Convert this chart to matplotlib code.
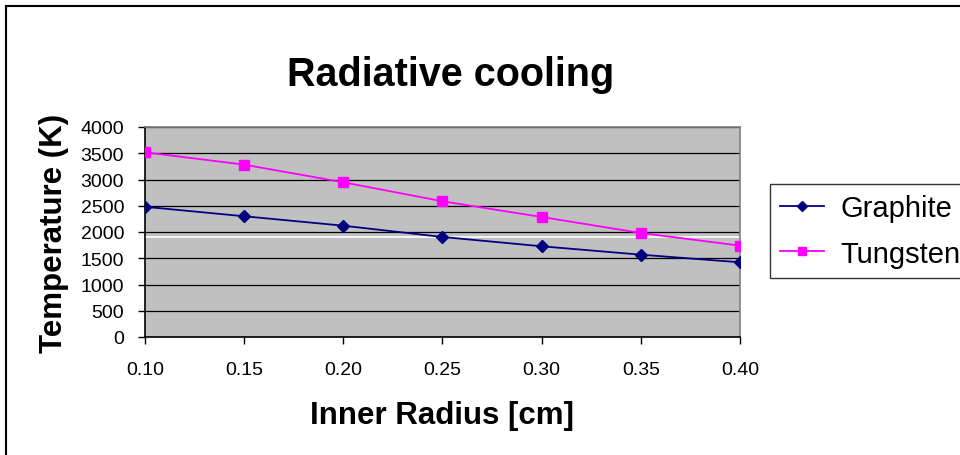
import matplotlib
matplotlib.use("Agg")
import matplotlib.pyplot as plt
from matplotlib.patches import Rectangle

radius = [0.10, 0.15, 0.20, 0.25, 0.30, 0.35, 0.40]
graphite = [2480, 2300, 2120, 1905, 1728, 1568, 1423]
tungsten = [3518, 3283, 2947, 2585, 2286, 1981, 1740]
yticks = [0, 500, 1000, 1500, 2000, 2500, 3000, 3500, 4000]
xtick_labels = ["0.10", "0.15", "0.20", "0.25", "0.30", "0.35", "0.40"]

plt.rcParams['font.family'] = ['Liberation Sans', 'DejaVu Sans']

fig = plt.figure(figsize=(9.6, 4.56), dpi=100)
fig.patch.set_facecolor('white')
ax = fig.add_axes([145/960, 1-338/456, 595/960, 210/456])
ax.set_facecolor('#C0C0C0')

ax.plot(radius, graphite, color='#000080', marker='D', markersize=6, lw=1.3,
        label='Graphite', zorder=3)
ax.plot(radius, tungsten, color='#FF00FF', marker='s', markersize=7, lw=1.3,
        label='Tungsten', zorder=3)

ax.set_xlim(0.10, 0.40)
ax.set_ylim(0, 4000)
ax.set_yticks(yticks)
ax.set_yticklabels([str(v) for v in yticks], fontsize=14)
ax.set_xticks(radius)
ax.set_xticklabels(xtick_labels, fontsize=14)
ax.yaxis.grid(True, color='black', lw=0.9)
ax.axhline(1905, color='white', lw=1.2, zorder=2)
ax.set_axisbelow(True)
ax.tick_params(axis='both', direction='out', length=5, width=1, color='black')
ax.tick_params(axis='x', pad=12)
ax.tick_params(axis='y', pad=10)
for s in ['left', 'bottom']:
    ax.spines[s].set_color('black')
    ax.spines[s].set_linewidth(1.2)
for s in ['right', 'top']:
    ax.spines[s].set_color('#808080')
    ax.spines[s].set_linewidth(1.2)

ax.set_ylabel('Temperature (K)', fontsize=22.5, fontweight='bold', labelpad=8)
ax.set_xlabel('Inner Radius [cm]', fontsize=22.5, fontweight='bold', labelpad=16)
fig.text(451/960, 1-75/456, 'Radiative cooling', fontsize=28.5, fontweight='bold',
         ha='center', va='center')

leg = fig.legend(loc='upper left', bbox_to_anchor=(770/960, 1-185/456),
                 fontsize=21, frameon=True, fancybox=False, edgecolor='black',
                 borderpad=0.35, handlelength=1.5, handletextpad=0.55, labelspacing=0.6,
                 borderaxespad=0, markerscale=0.85)
leg.get_frame().set_linewidth(1.0)

fig.patches.append(Rectangle((6/960, -0.1), 2.0, 1-7/456+0.1, transform=fig.transFigure,
                             fill=False, edgecolor='black', lw=1.5))

fig.savefig('out.png', dpi=100)
